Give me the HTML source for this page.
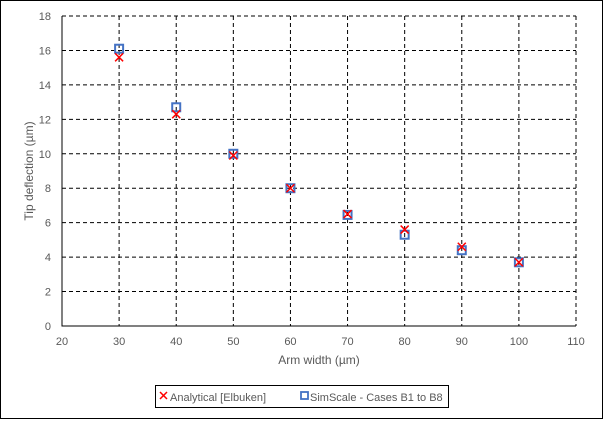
<!DOCTYPE html>
<html><head><meta charset="utf-8"><style>
body{margin:0;background:#fff;width:603px;height:419px;overflow:hidden;font-family:"Liberation Sans",sans-serif}
svg text{font-family:"Liberation Sans",sans-serif;fill:#595959}
</style></head><body>
<svg id="chart" width="603" height="419" xmlns="http://www.w3.org/2000/svg">
<rect x="0.5" y="0.5" width="602" height="418" fill="#fff" stroke="#000"/>
<g id="grid"></g><g id="marks"></g>
<text x="319" y="364" font-size="12" text-anchor="middle">Arm width (µm)</text>
<text transform="translate(33,171) rotate(-90)" font-size="12" text-anchor="middle">Tip deflection (µm)</text>
<g>
<rect x="155.5" y="385.5" width="293" height="22" fill="#fff" stroke="#000"/>
<g>
<path d="M160 392 l7 7 M167 392 l-7 7" stroke="#f00" stroke-width="1.5"/>
<text x="170" y="401" font-size="11">Analytical [Elbuken]</text></g>
<g>
<rect x="301" y="392" width="7" height="7" fill="none" stroke="#4472c4" stroke-width="1.8"/>
<text x="310" y="401" font-size="11">SimScale - Cases B1 to B8</text></g>
</g>
</svg>
<script>
const categories=[30,40,50,60,70,80,90,100];
const analytical=[15.6,12.3,9.9,8.0,6.5,5.6,4.6,3.7];
const simscale=[16.1,12.7,10.0,8.0,6.45,5.3,4.4,3.7];
const xTicks=[20,30,40,50,60,70,80,90,100,110];
const yTicks=[0,2,4,6,8,10,12,14,16,18];
const NS="http://www.w3.org/2000/svg";
const X=v=>62+(v-20)*(514/90), Y=v=>326-v*(310/18);
function mk(t,a,p){const e=document.createElementNS(NS,t);for(const k in a)e.setAttribute(k,a[k]);p.appendChild(e);return e;}
const g=document.getElementById('grid'),m=document.getElementById('marks');
yTicks.forEach(v=>{
 if(v>0){const l=mk('line',{x1:62,x2:576,y1:Y(v),y2:Y(v),stroke:'#000','stroke-dasharray':'4,3'},g);
 
 }
 const t=mk('text',{x:51,y:Y(v)+4,'font-size':11,'text-anchor':'end'},g);t.textContent=v;
 
 
});
xTicks.forEach(v=>{
 if(v>20){const l=mk('line',{x1:X(v),x2:X(v),y1:16,y2:326,stroke:'#000','stroke-dasharray':'4,3'},g);
 
 }
 const t=mk('text',{x:X(v),y:345,'font-size':11,'text-anchor':'middle'},g);t.textContent=v;
 
 
});
const ax=mk('path',{d:'M62 16 V326 H576',fill:'none',stroke:'#000'},g);


categories.forEach((c,i)=>{
 const x=X(c),y=Y(simscale[i]);
 const r=mk('rect',{x:x-4,y:y-4,width:8,height:8,fill:'none',stroke:'#4472c4','stroke-width':2},m);
 
 
 const ya=Y(analytical[i]);
 const p=mk('path',{d:`M${x-4} ${ya-4} l8 8 M${x+4} ${ya-4} l-8 8`,stroke:'#f00','stroke-width':1.5},m);
 
 
});
</script>
</body></html>
